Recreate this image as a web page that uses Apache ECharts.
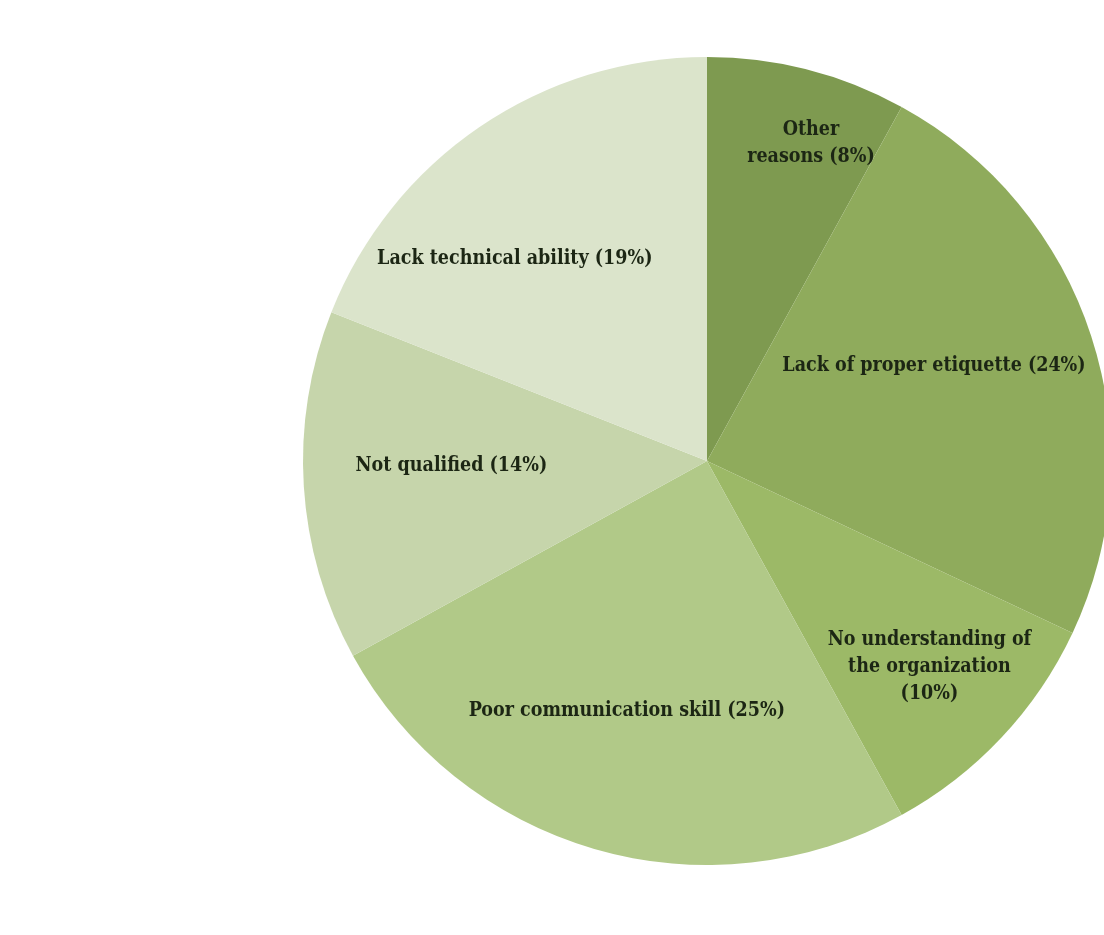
<!DOCTYPE html>
<html>
<head>
<meta charset="utf-8">
<script src="https://cdn.jsdelivr.net/npm/echarts@6/dist/echarts.min.js"></script>
<style>
html,body{margin:0;padding:0;background:#fff;}
#chart{width:1104px;height:935px;}
</style>
</head>
<body>
<div id="chart"></div>
<script>
const categories = [
  'Other\nreasons (8%)',
  'Lack of proper etiquette (24%)',
  'No understanding of\nthe organization\n(10%)',
  'Poor communication skill (25%)',
  'Not qualified (14%)',
  'Lack technical ability (19%)'
];
const values = [8, 24, 10, 25, 14, 19];
const sliceColors = ['#7e9a50', '#8fab5c', '#9cb967', '#b1c988', '#c6d5ab', '#dbe4cb'];
const labelShift = [[53, -119], [32, -32], [73, 66], [-23, 53], [-51, -8], [-77, -33]];

const chart = echarts.init(document.getElementById('chart'), null, {renderer: 'canvas'});
chart.setOption({
  backgroundColor: '#ffffff',
  animation: false,
  series: [{
    type: 'pie',
    center: [707, 461],
    radius: [0, 404],
    startAngle: 90,
    clockwise: true,
    data: categories.map((c, i) => ({
      name: c,
      value: values[i],
      itemStyle: {color: sliceColors[i]}
    })),
    itemStyle: {borderWidth: 0},
    label: {
      show: true,
      position: 'inside',
      formatter: '{b}',
      color: '#1c2614',
      fontFamily: '"DejaVu Serif Condensed", "DejaVu Serif", "Liberation Serif", serif',
      fontWeight: 'bold',
      fontSize: 19.5,
      lineHeight: 27,
      align: 'center'
    },
    labelLine: {show: false},
    labelLayout: function (p) {
      const s = labelShift[p.dataIndex];
      return {dx: s[0], dy: s[1]};
    },
    emphasis: {disabled: true}
  }]
});
</script>
</body>
</html>
